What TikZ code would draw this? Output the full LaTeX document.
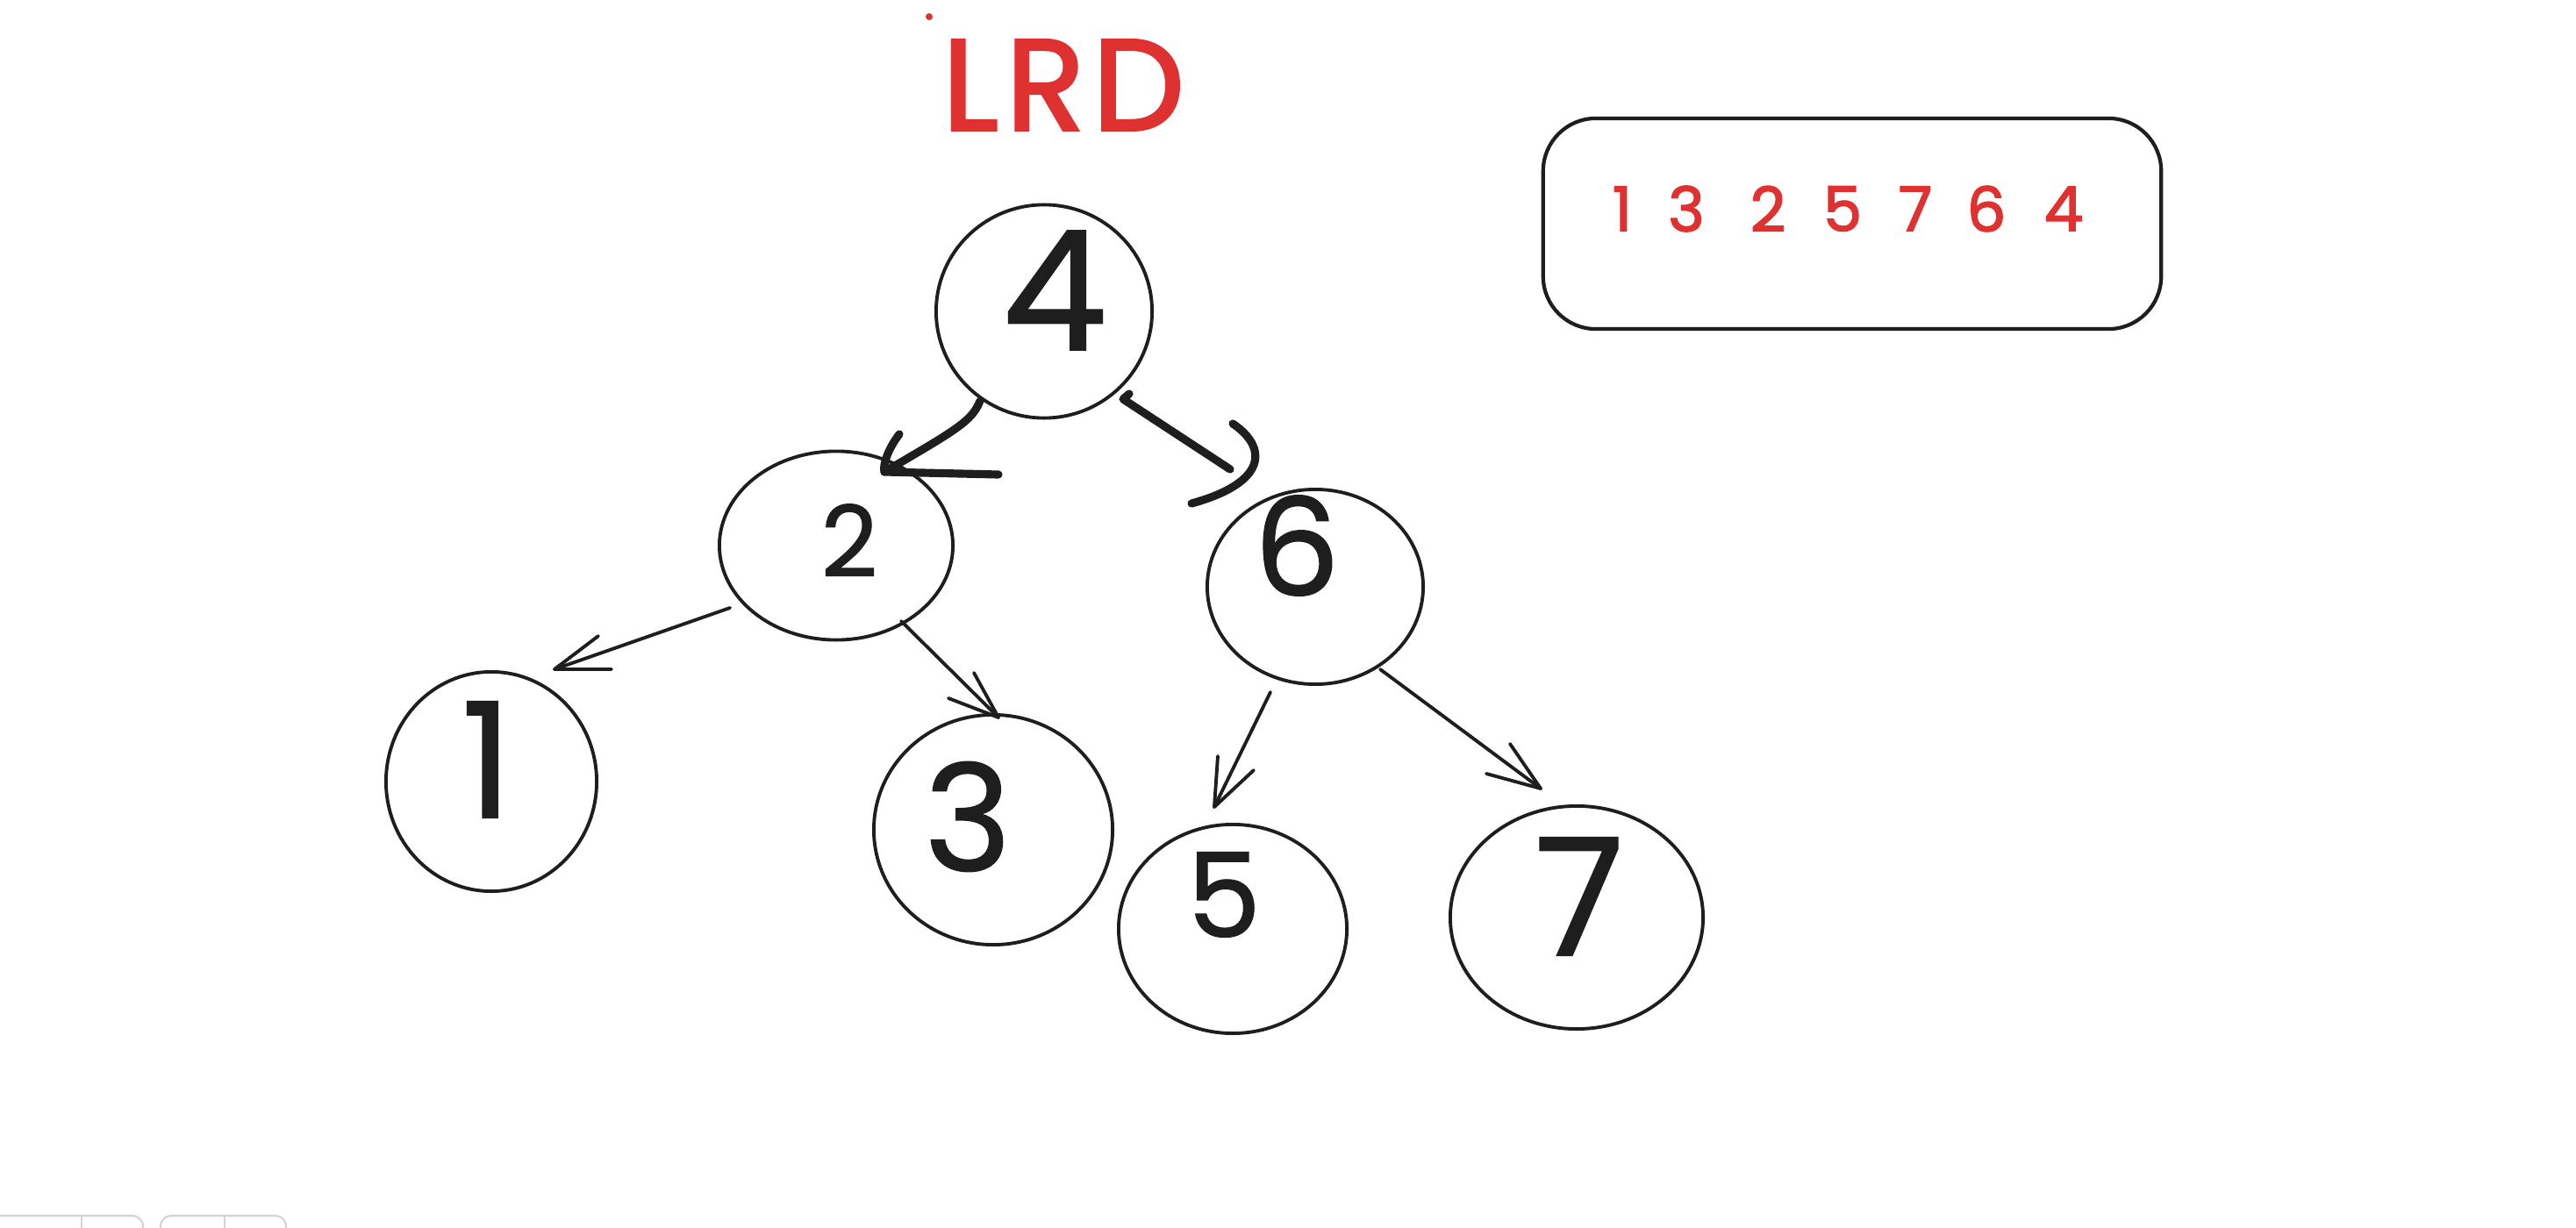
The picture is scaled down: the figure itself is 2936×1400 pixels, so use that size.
\documentclass[tikz,border=0pt]{standalone}
\usepackage{fontspec}
\setmainfont{Poppins}
\newfontfamily\inkfont[FakeBold=1]{Poppins}
\newfontfamily\redfont[FakeBold=2.2,LetterSpace=6]{Poppins}
\usetikzlibrary{shapes.geometric}
\definecolor{ink}{HTML}{1E1E1E}
\definecolor{redink}{HTML}{E03131}
\definecolor{uigray}{HTML}{D4D4D4}
\tikzset{
  treenode/.style={draw=ink, line width=1.1pt, ellipse, inner sep=0pt},
  digit/.style={text=ink, inner sep=0pt, anchor=center},
  thinarrow/.style={draw=ink, line width=1.1pt, line cap=round, line join=round},
  thickstroke/.style={draw=ink, line width=2.6pt, line cap=round, line join=round},
  reddigit/.style={text=redink, font=\redfont\fontsize{20}{24}\selectfont, inner sep=0pt},
  uiline/.style={draw=uigray, line width=0.6pt},
}
\begin{document}
\begin{tikzpicture}[x=0.01cm,y=-0.01cm]
\useasboundingbox (0,0) rectangle (2936,1400);
\fill[white] (0,0) rectangle (2936,1400);

% title
\node[text=redink, font=\redfont\fontsize{42}{48}\selectfont, inner sep=0pt] (title) at (1212,97) {LRD};
\node[circle, fill=redink, minimum size=0.08cm, inner sep=0pt] (dot) at (1059,19) {};

% result box
\node[draw=ink, line width=1.2pt, rounded corners=0.6cm, minimum width=7.04cm, minimum height=2.40cm] (box) at (2111,255) {};
\foreach \d/\x in {1/1849,3/1922,2/2015,5/2100,7/2183,6/2264,4/2352}
  \node[reddigit] (r\d) at (\x,238) {\d};

% tree nodes
\node[treenode, minimum width=2.46cm, minimum height=2.43cm] (n4) at (1190,355) {};
\node[treenode, minimum width=2.66cm, minimum height=2.15cm] (n2) at (953,622) {};
\node[treenode, minimum width=2.46cm, minimum height=2.22cm] (n6) at (1499,669) {};
\node[treenode, minimum width=2.40cm, minimum height=2.50cm] (n1) at (560,891) {};
\node[treenode, minimum width=2.72cm, minimum height=2.62cm] (n3) at (1132,946) {};
\node[treenode, minimum width=2.60cm, minimum height=2.38cm] (n5) at (1405,1059) {};
\node[treenode, minimum width=2.88cm, minimum height=2.54cm] (n7) at (1797,1046) {};

% digits
\node[digit, font=\inkfont\fontsize{54}{60}\selectfont] (d4) at (1202,331) {4};
\node[digit, font=\inkfont\fontsize{32}{38}\selectfont] (d2) at (968,616) {2};
\node[digit, font=\inkfont\fontsize{44}{50}\selectfont] (d6) at (1478,622) {6};
\node[digit, font=\inkfont\fontsize{52}{58}\selectfont] (d1) at (555,866) {1};
\node[digit, font=\inkfont\fontsize{48}{54}\selectfont] (d3) at (1103,931) {3};
\node[digit, font=\inkfont\fontsize{38}{44}\selectfont] (d5) at (1395,1020) {5};
\node[digit, font=\inkfont\fontsize{53}{58}\selectfont] (d7) at (1800,1022) {7};

% arrow 4 -> 2 (thick, hand drawn)
\coordinate (a42s) at (1117,457);
\coordinate (a42t) at (1008,538);
\coordinate (a42b1) at (1025,495);
\coordinate (a42b2) at (1138,541);
\draw[thickstroke] (a42s) .. controls (1108,480) and (1090,490) .. (a42t);
\draw[thickstroke] (a42b1) .. controls (1012,512) and (1006,530) .. (a42t) -- (a42b2);

% arrow 4 -> 6 (thick, hand drawn)
\coordinate (a46h) at (1287,449);
\coordinate (a46s) at (1280,455);
\coordinate (a46e) at (1402,535);
\coordinate (a46c1) at (1405,483);
\coordinate (a46c2) at (1358,574);
\draw[thickstroke] (a46h) -- (a46s) -- (a46e);
\draw[thickstroke] (a46c1) .. controls (1445,510) and (1445,550) .. (a46c2);

% arrow 2 -> 1
\coordinate (a21s) at (832,693);
\coordinate (a21t) at (632,763);
\coordinate (a21b1) at (682,725);
\coordinate (a21b2) at (697,763);
\draw[thinarrow] (a21s) -- (a21t);
\draw[thinarrow] (a21b1) -- (a21t) -- (a21b2);

% arrow 2 -> 3
\coordinate (a23s) at (1027,708);
\coordinate (a23t) at (1138,818);
\coordinate (a23b1) at (1110,767);
\coordinate (a23b2) at (1081,796);
\draw[thinarrow] (a23s) -- (a23t);
\draw[thinarrow] (a23b1) -- (a23t) -- (a23b2);

% arrow 6 -> 5
\coordinate (a65s) at (1448,789);
\coordinate (a65t) at (1384,920);
\coordinate (a65b1) at (1388,862);
\coordinate (a65b2) at (1429,878);
\draw[thinarrow] (a65s) -- (a65t);
\draw[thinarrow] (a65b1) -- (a65t) -- (a65b2);

% arrow 6 -> 7
\coordinate (a67s) at (1573,763);
\coordinate (a67t) at (1756,899);
\coordinate (a67b1) at (1721,848);
\coordinate (a67b2) at (1694,882);
\draw[thinarrow] (a67s) -- (a67t);
\draw[thinarrow] (a67b1) -- (a67t) -- (a67b2);

% bottom-left UI fragments
\draw[uiline, rounded corners=0.12cm] (0,1386) -- (163,1386) -- (163,1400);
\draw[uiline] (93,1386) -- (93,1400);
\draw[uiline, rounded corners=0.12cm] (183,1400) -- (183,1386) -- (326,1386) -- (326,1400);
\draw[uiline] (256,1386) -- (256,1400);
\end{tikzpicture}
\end{document}
